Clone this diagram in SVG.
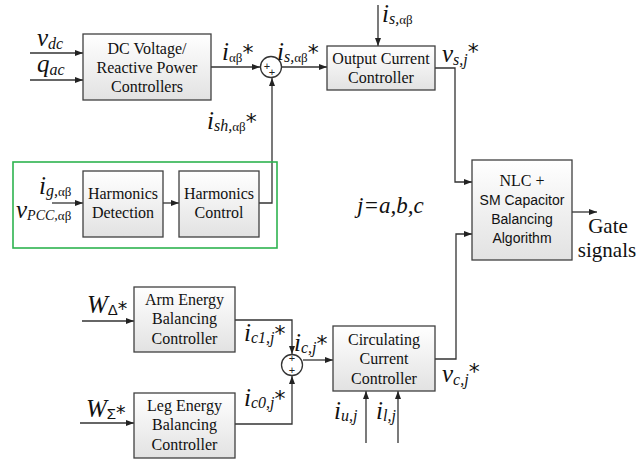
<svg xmlns="http://www.w3.org/2000/svg" width="641" height="461" viewBox="0 0 641 461">
<defs>
<linearGradient id="g" x1="0" y1="0" x2="0" y2="1">
<stop offset="0" stop-color="#ffffff"/>
<stop offset="1" stop-color="#e2e2e2"/>
</linearGradient>
<marker id="a" markerUnits="userSpaceOnUse" markerWidth="9" markerHeight="7" refX="8" refY="3" orient="auto">
<path d="M0,0 L8,3 L0,6 z" fill="#222"/>
</marker>
</defs>
<style>
.box{fill:url(#g);stroke:#404040;stroke-width:1.3}
.w{fill:none;stroke:#333;stroke-width:1.3}
.t{font-family:"Liberation Serif","Times New Roman",serif;font-size:16px;fill:#111;text-anchor:middle}
.s{font-family:"Liberation Sans",Arial,sans-serif;font-size:14px;fill:#111;text-anchor:middle}
.m{font-family:"Liberation Serif","Times New Roman",serif;font-style:italic;font-size:25px;fill:#111}
.sb{font-size:16px}
.gk{font-style:normal;font-size:13px}
.st{font-family:"DejaVu Sans",sans-serif;font-style:normal;font-size:22px}
.dl{font-family:"Liberation Sans",Arial,sans-serif;font-style:normal;font-size:15px}
.pl{font-family:"Liberation Sans",Arial,sans-serif;font-size:11px;fill:#222;text-anchor:middle}
</style>
<rect width="641" height="461" fill="#fff"/>

<g id="connectors">
<path class="w" d="M30,53 H83" marker-end="url(#a)"/>
<path class="w" d="M30,80 H83" marker-end="url(#a)"/>
<path class="w" d="M211,67 H260" marker-end="url(#a)"/>
<path class="w" d="M281,67 H327" marker-end="url(#a)"/>
<path class="w" d="M259,203 H272 V78" marker-end="url(#a)"/>
<path class="w" d="M378,5 V46" marker-end="url(#a)"/>
<path class="w" d="M435,68 H455 V182 H472" marker-end="url(#a)"/>
<path class="w" d="M572,212 H597" marker-end="url(#a)"/>
<path class="w" d="M52,203 H83" marker-end="url(#a)"/>
<path class="w" d="M163,203 H179" marker-end="url(#a)"/>
<path class="w" d="M82,321 H134" marker-end="url(#a)"/>
<path class="w" d="M80,423 H134" marker-end="url(#a)"/>
<path class="w" d="M235,320 H292 V354" marker-end="url(#a)"/>
<path class="w" d="M235,424 H292 V376" marker-end="url(#a)"/>
<path class="w" d="M303,360 H333" marker-end="url(#a)"/>
<path class="w" d="M435,359 H456 V234 H472" marker-end="url(#a)"/>
<path class="w" d="M366,443 V391" marker-end="url(#a)"/>
<path class="w" d="M398,443 V391" marker-end="url(#a)"/>
</g>

<g id="sum1">
<circle cx="271" cy="67" r="10.5" fill="#fff" stroke="#333" stroke-width="1.3"/>
<text class="pl" x="267" y="70">+</text>
<text class="pl" x="272" y="76">+</text>
</g>
<g id="sum2">
<circle cx="292" cy="365" r="10.5" fill="#fff" stroke="#333" stroke-width="1.3"/>
<text class="pl" x="292" y="362">+</text>
<text class="pl" x="292" y="374">+</text>
</g>

<g id="green">
<rect x="13" y="162" width="264" height="86" fill="none" stroke="#2db34f" stroke-width="1.6"/>
</g>

<g id="dc">
<rect class="box" x="83" y="34" width="128" height="66"/>
<text class="t" x="147" y="54">DC Voltage/</text>
<text class="t" x="147" y="73">Reactive Power</text>
<text class="t" x="147" y="92">Controllers</text>
</g>
<g id="occ">
<rect class="box" x="327" y="46" width="108" height="44"/>
<text class="t" x="381" y="64">Output Current</text>
<text class="t" x="381" y="83">Controller</text>
</g>
<g id="hd">
<rect class="box" x="83" y="171" width="80" height="66"/>
<text class="t" x="123" y="199">Harmonics</text>
<text class="t" x="123" y="218">Detection</text>
</g>
<g id="hc">
<rect class="box" x="179" y="171" width="80" height="66"/>
<text class="t" x="219" y="199">Harmonics</text>
<text class="t" x="219" y="218">Control</text>
</g>
<g id="nlc">
<rect class="box" x="472" y="160" width="100" height="100"/>
<text class="t" x="522" y="186">NLC +</text>
<text class="s" x="522" y="205">SM Capacitor</text>
<text class="s" x="522" y="224">Balancing</text>
<text class="s" x="522" y="243">Algorithm</text>
</g>
<g id="arm">
<rect class="box" x="134" y="287" width="101" height="65"/>
<text class="t" x="184.5" y="305">Arm Energy</text>
<text class="t" x="184.5" y="324">Balancing</text>
<text class="t" x="184.5" y="344">Controller</text>
</g>
<g id="leg">
<rect class="box" x="134" y="393" width="101" height="65"/>
<text class="t" x="184.5" y="411">Leg Energy</text>
<text class="t" x="184.5" y="430">Balancing</text>
<text class="t" x="184.5" y="450">Controller</text>
</g>
<g id="ccc">
<rect class="box" x="333" y="326" width="102" height="65"/>
<text class="t" x="384" y="345">Circulating</text>
<text class="t" x="384" y="364">Current</text>
<text class="t" x="384" y="384">Controller</text>
</g>

<g id="labels">
<text class="m" x="37" y="46">v<tspan class="sb" dy="3">dc</tspan></text>
<text class="m" x="37" y="72">q<tspan class="sb" dy="3">ac</tspan></text>
<text class="m" x="222" y="60">i<tspan class="gk" dy="2">αβ</tspan><tspan class="st" dy="-2">*</tspan></text>
<text class="m" x="277" y="60">i<tspan class="sb" dy="2">s,</tspan><tspan class="gk">αβ</tspan><tspan class="st" dy="-2">*</tspan></text>
<text class="m" x="207" y="129">i<tspan class="sb" dy="2">sh,</tspan><tspan class="gk">αβ</tspan><tspan class="st" dy="-2">*</tspan></text>
<text class="m" x="382" y="22">i<tspan class="sb" dy="2">s,</tspan><tspan class="gk">αβ</tspan></text>
<text class="m" x="442" y="62">v<tspan class="sb" dy="3">s,j</tspan><tspan class="st" dy="-6">*</tspan></text>
<text class="m" x="39" y="194">i<tspan class="sb" dy="2">g,</tspan><tspan class="gk">αβ</tspan></text>
<text class="m" x="16" y="218">v<tspan class="sb" dy="2" style="font-size:14px">PCC,</tspan><tspan class="gk">αβ</tspan></text>
<text class="m" x="357" y="213" style="font-size:23px">j=a,b,c</text>
<text class="t" x="608" y="233" style="font-size:21px">Gate</text>
<text class="t" x="607" y="257" style="font-size:21px">signals</text>
<text class="m" x="87" y="313">W<tspan class="dl" dy="2">Δ</tspan><tspan class="st" style="font-size:19px" dy="0">*</tspan></text>
<text class="m" x="86" y="417">W<tspan class="dl" dy="2">Σ</tspan><tspan class="st" style="font-size:19px" dy="0">*</tspan></text>
<text class="m" x="244" y="341">i<tspan class="sb" dy="2">c1,j</tspan><tspan class="st" dy="-2">*</tspan></text>
<text class="m" x="244" y="406">i<tspan class="sb" dy="2">c0,j</tspan><tspan class="st" dy="-2">*</tspan></text>
<text class="m" x="294" y="351">i<tspan class="sb" dy="2">c,j</tspan><tspan class="st" dy="-2">*</tspan></text>
<text class="m" x="442" y="382">v<tspan class="sb" dy="3">c,j</tspan><tspan class="st" dy="-6">*</tspan></text>
<text class="m" x="334" y="419">i<tspan class="sb" dy="2">u,j</tspan></text>
<text class="m" x="376" y="419">i<tspan class="sb" dy="2">l,j</tspan></text>
</g>
</svg>
